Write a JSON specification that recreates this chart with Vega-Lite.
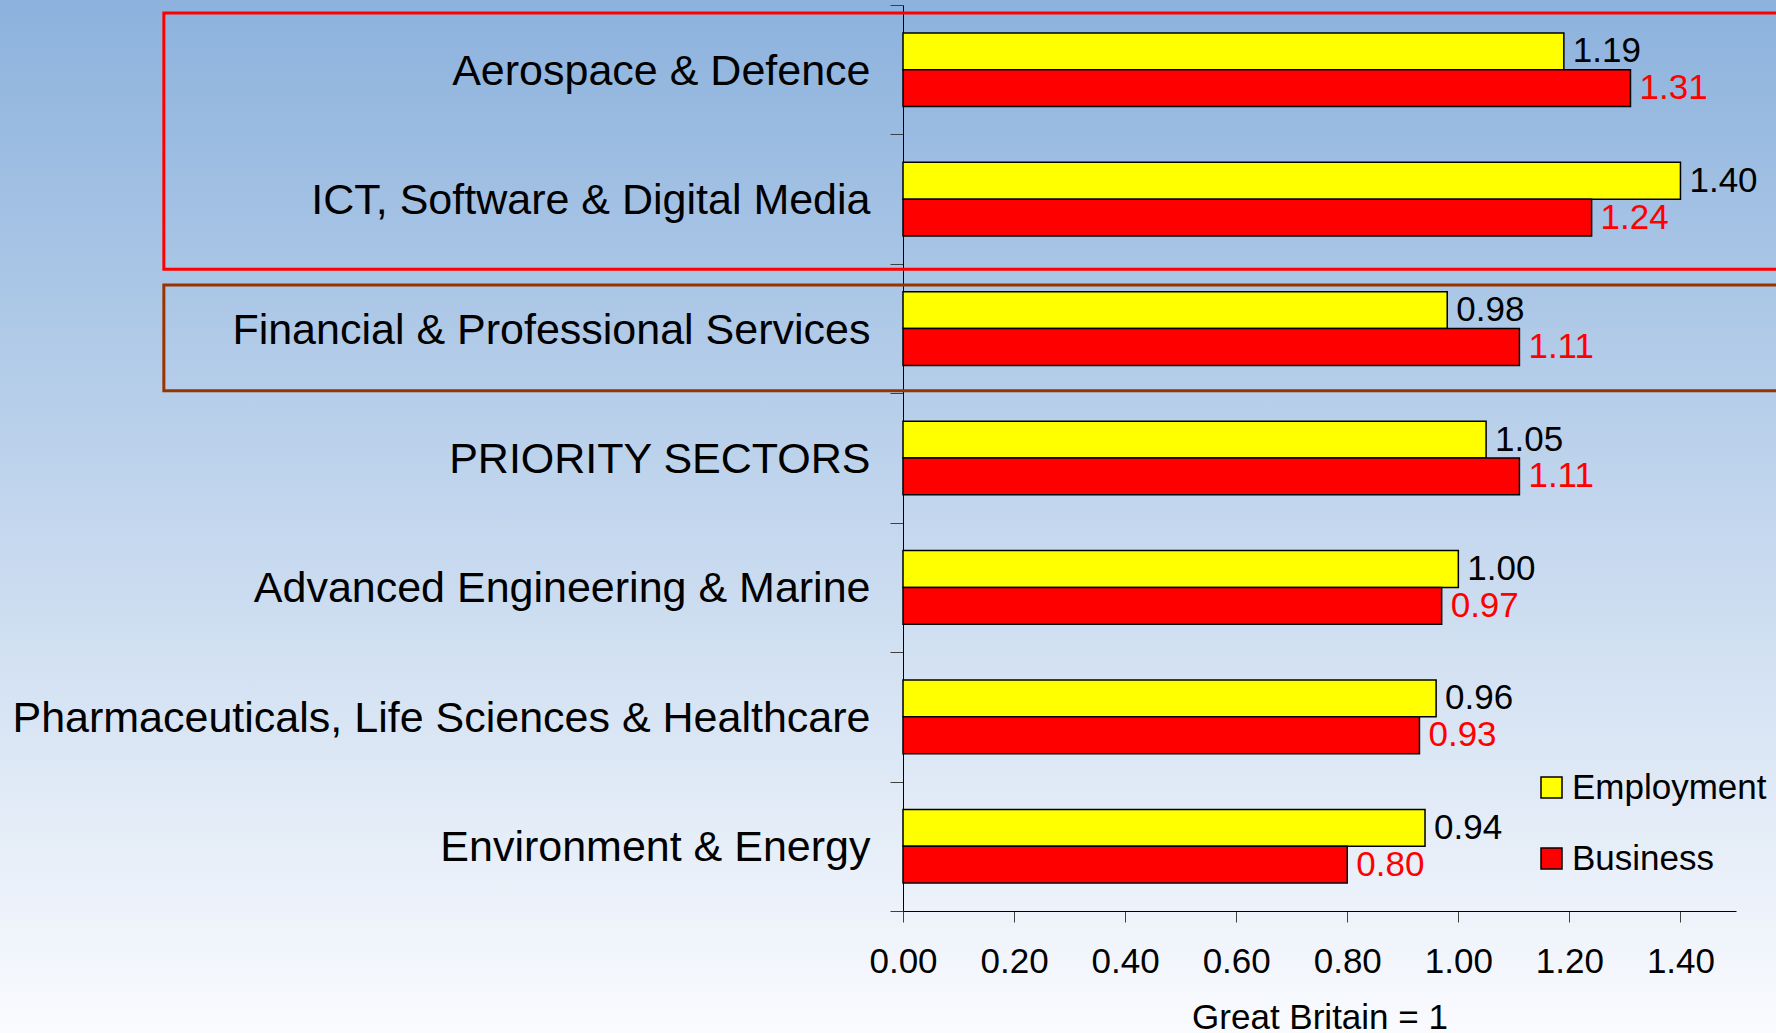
{
  "$schema": "https://vega.github.io/schema/vega-lite/v6.json",
  "width": 1776,
  "height": 1033,
  "autosize": "none",
  "padding": 0,
  "background": "#fafbfe",
  "config": {
    "font": "Liberation Sans",
    "view": {
      "stroke": null,
      "fill": {
        "gradient": "linear",
        "x1": 0, "y1": 0, "x2": 0, "y2": 1,
        "stops": [
          {"offset": 0, "color": "#8cb2dd"},
          {"offset": 1, "color": "#fafbfe"}
        ]
      }
    },
    "axis": {"grid": false, "labelFont": "Liberation Sans", "titleFont": "Liberation Sans", "labelColor": "#000000", "titleColor": "#000000"}
  },
  "datasets": {
    "bars": [
      {"sector": "Aerospace & Defence", "series": "Employment", "value": 1.19},
      {"sector": "Aerospace & Defence", "series": "Business", "value": 1.31},
      {"sector": "ICT, Software & Digital Media", "series": "Employment", "value": 1.40},
      {"sector": "ICT, Software & Digital Media", "series": "Business", "value": 1.24},
      {"sector": "Financial & Professional Services", "series": "Employment", "value": 0.98},
      {"sector": "Financial & Professional Services", "series": "Business", "value": 1.11},
      {"sector": "PRIORITY SECTORS", "series": "Employment", "value": 1.05},
      {"sector": "PRIORITY SECTORS", "series": "Business", "value": 1.11},
      {"sector": "Advanced Engineering & Marine", "series": "Employment", "value": 1.00},
      {"sector": "Advanced Engineering & Marine", "series": "Business", "value": 0.97},
      {"sector": "Pharmaceuticals, Life Sciences & Healthcare", "series": "Employment", "value": 0.96},
      {"sector": "Pharmaceuticals, Life Sciences & Healthcare", "series": "Business", "value": 0.93},
      {"sector": "Environment & Energy", "series": "Employment", "value": 0.94},
      {"sector": "Environment & Energy", "series": "Business", "value": 0.80}
    ],
    "frames": [
      {"frame": "Priority", "x1": -1.331, "x2": 1.75, "y1": 0.062, "y2": 2.042},
      {"frame": "Financial", "x1": -1.331, "x2": 1.75, "y1": 2.163, "y2": 2.98}
    ]
  },
  "layer": [
    {
      "data": {"name": "frames"},
      "mark": {"type": "rect", "fillOpacity": 0, "strokeWidth": 3},
      "encoding": {
        "x": {"field": "x1", "type": "quantitative", "title": "Great Britain = 1"},
        "x2": {"field": "x2"},
        "y": {
          "field": "y1", "type": "quantitative",
          "scale": {"domain": [0, 7], "range": [5, 911], "nice": false, "zero": false},
          "axis": {
            "orient": "left", "offset": -903, "title": null,
            "values": [0, 1, 2, 3, 4, 5, 6, 7], "labels": false, "domain": false,
            "tickSize": 13, "tickColor": "#404040"
          }
        },
        "y2": {"field": "y2"},
        "stroke": {"condition": {"test": "datum.frame === 'Priority'", "value": "#ff0000"}, "value": "#993300"}
      }
    },
    {
      "data": {"name": "bars"},
      "layer": [
        {
          "mark": {"type": "bar", "stroke": "#000000", "strokeWidth": 1.5},
          "encoding": {
            "y": {
              "field": "sector", "type": "nominal",
              "sort": ["Aerospace & Defence", "ICT, Software & Digital Media", "Financial & Professional Services", "PRIORITY SECTORS", "Advanced Engineering & Marine", "Pharmaceuticals, Life Sciences & Healthcare", "Environment & Energy"],
              "scale": {"range": [5, 911], "paddingInner": 0.431, "paddingOuter": 0.2155},
              "axis": {
                "title": null, "orient": "left", "offset": -903,
                "ticks": false, "domainColor": "#000000", "labelFontSize": 43, "labelPadding": 33,
                "labelOffset": 2, "labelLimit": 0, "labelColor": "#000000"
              }
            },
            "yOffset": {"field": "series", "type": "nominal", "sort": ["Employment", "Business"], "scale": {"paddingInner": 0, "paddingOuter": 0}},
            "x": {
              "field": "value", "type": "quantitative",
              "scale": {"domain": [0, 1.5], "range": [903, 1736], "nice": false, "zero": false},
              "title": "Great Britain = 1",
              "axis": {
                "orient": "bottom", "offset": -122,
                "values": [0, 0.2, 0.4, 0.6, 0.8, 1.0, 1.2, 1.4], "format": ".2f",
                "labelFlush": false, "labelOverlap": false,
                "tickSize": 11, "tickColor": "#404040", "domainColor": "#000000",
                "labelFontSize": 35, "labelPadding": 22,
                "titleFontSize": 35, "titleFontWeight": "normal", "titlePadding": 21
              }
            },
            "color": {
              "field": "series", "type": "nominal",
              "scale": {"domain": ["Employment", "Business"], "range": ["#ffff00", "#ff0000"]},
              "legend": {
                "orient": "none", "legendX": 1534, "legendY": 770, "title": null,
                "symbolType": "square", "symbolSize": 441, "symbolStrokeColor": "#000000",
                "symbolStrokeWidth": 1.5, "labelFontSize": 35, "labelColor": "#000000",
                "labelOffset": 3, "rowPadding": 35, "padding": 0, "labelLimit": 0
              }
            }
          }
        },
        {
          "mark": {"type": "text", "align": "left", "baseline": "middle", "dx": 9, "fontSize": 35},
          "encoding": {
            "y": {
              "field": "sector", "type": "nominal",
              "sort": ["Aerospace & Defence", "ICT, Software & Digital Media", "Financial & Professional Services", "PRIORITY SECTORS", "Advanced Engineering & Marine", "Pharmaceuticals, Life Sciences & Healthcare", "Environment & Energy"]
            },
            "yOffset": {"field": "series", "type": "nominal", "sort": ["Employment", "Business"]},
            "x": {"field": "value", "type": "quantitative", "title": "Great Britain = 1"},
            "text": {"field": "value", "type": "quantitative", "format": ".2f"},
            "color": {"condition": {"test": "datum.series === 'Business'", "value": "#ff0000"}, "value": "#000000"}
          }
        }
      ]
    }
  ],
  "resolve": {"scale": {"y": "independent"}}
}
